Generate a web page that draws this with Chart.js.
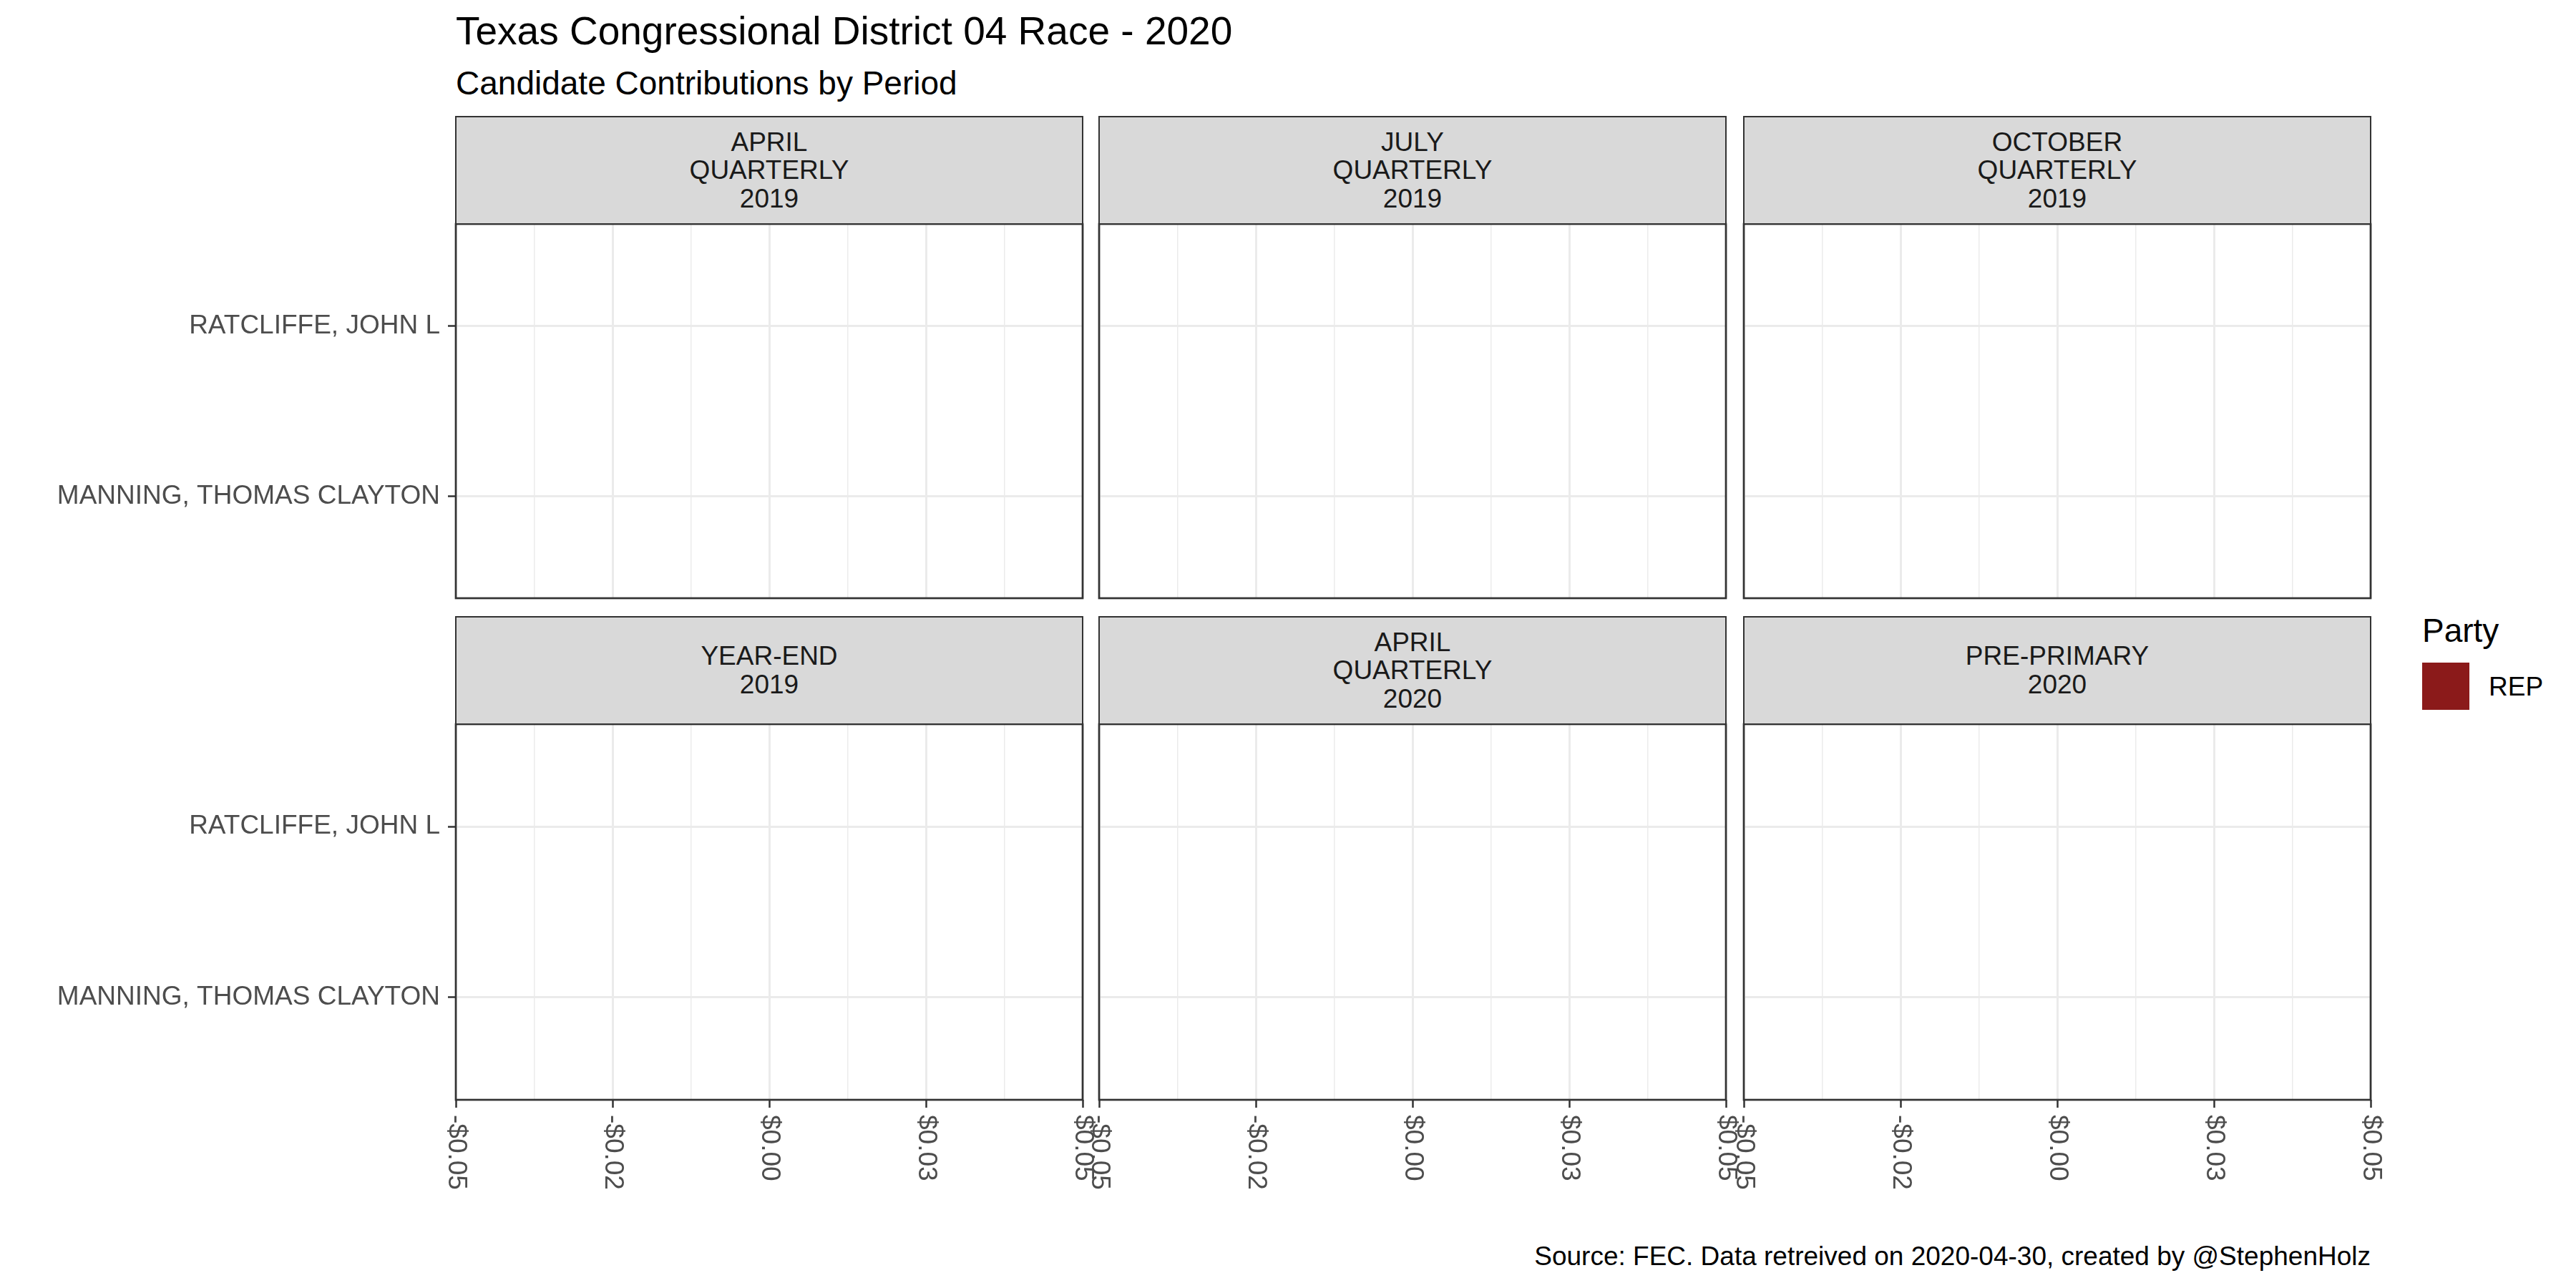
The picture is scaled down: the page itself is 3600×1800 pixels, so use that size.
<!DOCTYPE html>
<html>
<head>
<meta charset="utf-8">
<title>Texas Congressional District 04 Race - 2020</title>
<script src="https://cdn.jsdelivr.net/npm/chart.js@4.4.1/dist/chart.umd.min.js"></script>
<style>
  html, body { margin: 0; padding: 0; background: #ffffff; }
  body { width: 3600px; height: 1800px; position: relative; overflow: hidden; font-family: "Liberation Sans", Arial, sans-serif; }
  .txt { position: absolute; white-space: nowrap; line-height: 1; }
  .strip { position: absolute; box-sizing: border-box; background: #D9D9D9; border: 2.7px solid #333333;
           display: flex; flex-direction: column; justify-content: center; align-items: center;
           color: #1A1A1A; font-size: 37px; line-height: 39.5px; text-align: center; }
  canvas { position: absolute; }
  .key { position: absolute; }
</style>
</head>
<body>
<div class="txt" style="left:637px; top:16px; font-size:55px; color:#000;">Texas Congressional District 04 Race - 2020</div>
<div class="txt" style="left:637px; top:93px; font-size:46px; color:#000;">Candidate Contributions by Period</div>
<div class="txt" style="right:287px; top:1737px; font-size:37px; color:#000;">Source: FEC. Data retreived on 2020-04-30, created by @StephenHolz</div>

<div id="legend"></div>

<script>
// ---- data ----
const periods = [
    'APRIL QUARTERLY 2019',
    'JULY QUARTERLY 2019',
    'OCTOBER QUARTERLY 2019',
    'YEAR-END 2019',
    'APRIL QUARTERLY 2020',
    'PRE-PRIMARY 2020'
];
const candidates = ['MANNING, THOMAS CLAYTON', 'RATCLIFFE, JOHN L'];
const candidateParty = ['REP', 'REP'];
// contributions per period, one value per candidate (all zero in the source)
const contributions = [
    [0, 0],
    [0, 0],
    [0, 0],
    [0, 0],
    [0, 0],
    [0, 0]
];
const xBreaks = [-0.05, -0.025, 0, 0.025, 0.05];
const xMinorBreaks = [-0.0375, -0.0125, 0.0125, 0.0375];
const xTickLabels = ['-$0.05', '-$0.02', '$0.00', '$0.03', '$0.05'];
const parties = ['REP'];
const partyColors = ['#8B1A1A'];

// ---- layout ----
const colLeft = [637, 1536, 2437];
const panelW = 876;
const rowTop = [313, 1012];
const rowH = [523, 525];
const stripH = 150;

Chart.defaults.font.family = '"Liberation Sans", Arial, sans-serif';

const panelFrame = {
    id: 'panelFrame',
    afterDraw(chart, args, opts) {
        const ctx = chart.ctx;
        const a = chart.chartArea;
        ctx.save();
        ctx.strokeStyle = '#333333';
        ctx.lineWidth = 2.7;
        ctx.strokeRect(a.left, a.top, a.right - a.left, a.bottom - a.top);

        if (opts.xLabels) {
            const sx = chart.scales.x;
            ctx.fillStyle = '#4D4D4D';
            ctx.font = '37px "Liberation Sans", Arial, sans-serif';
            ctx.textAlign = 'left';
            ctx.textBaseline = 'middle';
            xBreaks.forEach((v, i) => {
                ctx.save();
                ctx.translate(sx.getPixelForValue(v), a.bottom + 11 + 10);
                ctx.rotate(Math.PI / 2);
                ctx.fillText(xTickLabels[i], 0, 0);
                ctx.restore();
            });
        }
        ctx.restore();
    }
};

const makePanel = (p) => {
    const col = p % 3;
    const row = Math.floor(p / 3);
    const firstCol = col === 0;
    const bottomRow = row === 1;

    // canvas
    const padL = firstCol ? colLeft[0] : 20;
    const padT = 60;
    const padR = 40;
    const padB = bottomRow ? 250 : 60;
    const canvasLeft = colLeft[col] - padL;
    const canvasTop = rowTop[row] - padT;
    const canvas = document.createElement('canvas');
    canvas.width = panelW + padL + padR;
    canvas.height = rowH[row] + padT + padB;
    canvas.style.left = canvasLeft + 'px';
    canvas.style.top = canvasTop + 'px';
    document.body.appendChild(canvas);

    const chart = new Chart(canvas.getContext('2d'), {
        type: 'bar',
        data: {
            datasets: [{
                label: 'Contributions',
                data: candidates.map((c, i) => ({ x: contributions[p][i], y: i + 1 })),
                backgroundColor: candidateParty.map(pt => partyColors[parties.indexOf(pt)]),
                borderWidth: 0
            }]
        },
        options: {
            indexAxis: 'y',
            responsive: false,
            animation: false,
            events: [],
            layout: { padding: { left: firstCol ? 0 : 20, top: padT, right: padR, bottom: bottomRow ? 0 : 60 } },
            plugins: {
                legend: { display: false },
                tooltip: { enabled: false },
                panelFrame: { xLabels: bottomRow }
            },
            scales: {
                x: {
                    type: 'linear',
                    min: -0.05,
                    max: 0.05,
                    offset: false,
                    afterBuildTicks: s => {
                        s.ticks = xBreaks.map(v => ({ value: v, major: true }))
                            .concat(xMinorBreaks.map(v => ({ value: v, major: false })))
                            .sort((a, b) => a.value - b.value);
                    },
                    afterFit: s => { s.height = bottomRow ? 250 : 0; },
                    ticks: { display: false },
                    border: { display: false },
                    grid: {
                        offset: false,
                        color: '#EBEBEB',
                        lineWidth: c => (c.tick && c.tick.major ? 3 : 1.5),
                        drawTicks: bottomRow,
                        tickLength: 11,
                        tickWidth: 2.5,
                        tickColor: c => (c.tick && c.tick.major ? '#333333' : 'rgba(0,0,0,0)')
                    }
                },
                y: {
                    type: 'linear',
                    min: 0.4,
                    max: 2.6,
                    offset: false,
                    afterBuildTicks: s => {
                        s.ticks = candidates.map((c, i) => ({ value: i + 1 }));
                    },
                    afterFit: s => { s.width = firstCol ? colLeft[0] : 0; },
                    ticks: {
                        display: firstCol,
                        color: '#4D4D4D',
                        padding: 11,
                        font: { size: 37 },
                        callback: v => candidates[v - 1]
                    },
                    border: { display: false },
                    grid: {
                        offset: false,
                        color: '#EBEBEB',
                        lineWidth: 3,
                        drawTicks: firstCol,
                        tickLength: 11,
                        tickWidth: 2.5,
                        tickColor: '#333333'
                    }
                }
            }
        },
        plugins: [panelFrame]
    });

    // strip sits right on top of the chart area
    const a = chart.chartArea;
    const strip = document.createElement('div');
    strip.className = 'strip';
    strip.style.left = (canvasLeft + a.left - 1.35) + 'px';
    strip.style.top = (canvasTop + a.top - stripH - 1.35) + 'px';
    strip.style.width = (a.right - a.left + 2.7) + 'px';
    strip.style.height = (stripH + 2.7) + 'px';
    periods[p].split(' ').forEach(word => {
        const line = document.createElement('div');
        line.textContent = word;
        strip.appendChild(line);
    });
    document.body.appendChild(strip);
};

periods.forEach((p, i) => makePanel(i));

// legend
const legend = document.getElementById('legend');
const legTitle = document.createElement('div');
legTitle.className = 'txt';
legTitle.style.cssText = 'left:3385px; top:858px; font-size:46px; color:#000;';
legTitle.textContent = 'Party';
legend.appendChild(legTitle);
parties.forEach((pt, i) => {
    const key = document.createElement('div');
    key.className = 'key';
    key.style.cssText = `left:3385px; top:${926 + i * 66}px; width:66px; height:66px; background:${partyColors[i]};`;
    legend.appendChild(key);
    const lab = document.createElement('div');
    lab.className = 'txt';
    lab.style.cssText = `left:3478px; top:${941 + i * 66}px; font-size:37px; color:#000;`;
    lab.textContent = pt;
    legend.appendChild(lab);
});
</script>
</body>
</html>
